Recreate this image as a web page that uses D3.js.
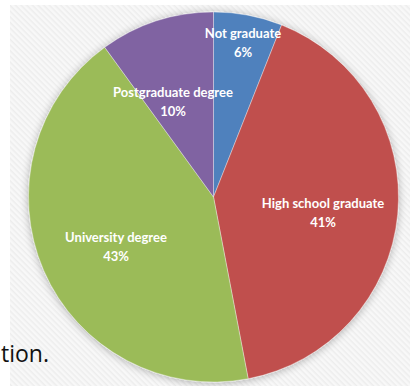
<!DOCTYPE html>
<html>
<head>
<meta charset="utf-8">
<script src="https://cdn.jsdelivr.net/npm/d3@7"></script>
<style>
  body { margin: 0; background: #fff; }
  svg { display: block; }
</style>
</head>
<body>
<div id="container"></div>
<script>
let categories = ["Not graduate", "High school graduate", "University degree", "Postgraduate degree"];
let values = [6, 41, 43, 10];
let colors = ["#4f81bd", "#c0504d", "#9bbb59", "#8064a2"];

let w = 410;
let h = 386;
let cx = 213.5;
let cy = 197;
let r = 185;

let viz = d3.select("#container")
  .append("svg")
    .attr("width", w)
    .attr("height", h)
;

let defs = viz.append("defs");

// light diagonal hatching of the slide background
let pat = defs.append("pattern")
    .attr("id", "hatch")
    .attr("width", 4)
    .attr("height", 4)
    .attr("patternUnits", "userSpaceOnUse")
    .attr("patternTransform", "rotate(45)")
;
pat.append("rect").attr("width", 4).attr("height", 4).attr("fill", "#f8f8f8");
pat.append("rect").attr("width", 4).attr("height", 1.5).attr("fill", "#ededed");

let shadow = defs.append("filter")
    .attr("id", "shadow")
    .attr("x", "-20%").attr("y", "-20%")
    .attr("width", "140%").attr("height", "140%")
;
shadow.append("feGaussianBlur").attr("in", "SourceAlpha").attr("stdDeviation", 4).attr("result", "b");
shadow.append("feOffset").attr("in", "b").attr("dx", 0).attr("dy", 1).attr("result", "o");
shadow.append("feComponentTransfer").attr("in", "o").attr("result", "s")
  .append("feFuncA").attr("type", "linear").attr("slope", 0.3);
let merge = shadow.append("feMerge");
merge.append("feMergeNode").attr("in", "s");
merge.append("feMergeNode").attr("in", "SourceGraphic");

viz.append("rect")
    .attr("x", 10)
    .attr("y", 5)
    .attr("width", w - 10)
    .attr("height", h - 5)
    .attr("fill", "url(#hatch)")
;

// bit of slide text that was cut off
viz.append("text")
    .attr("x", 1)
    .attr("y", 362)
    .attr("font-family", "Open Sans")
    .attr("font-size", 23)
    .attr("fill", "#111")
    .text("tion.")
;

let pie = d3.pie().sort(null).value(function(d){ return d.value; });
let arcMaker = d3.arc().innerRadius(0).outerRadius(r);

let data = categories.map(function(c, i){
  return { name: c, value: values[i], color: colors[i] };
});
let arcs = pie(data);

let pieGroup = viz.append("g")
    .attr("transform", "translate(" + cx + "," + cy + ")")
;

pieGroup.append("g")
    .attr("filter", "url(#shadow)")
  .selectAll("path")
  .data(arcs)
  .enter()
  .append("path")
    .attr("d", arcMaker)
    .attr("fill", function(d){ return d.data.color; })
    .attr("stroke", "rgba(255,255,255,0.45)")
    .attr("stroke-width", 0.8)
;

// label positions
let labelPos = [
  [243 - cx, 38 - cy],
  [323 - cx, 208 - cy],
  [116 - cx, 242 - cy],
  [173 - cx, 97 - cy]
];

let labels = pieGroup.selectAll(".lbl")
  .data(arcs)
  .enter()
  .append("text")
    .attr("class", "lbl")
    .attr("text-anchor", "middle")
    .attr("font-family", "Lato")
    .attr("font-weight", "bold")
    .attr("font-size", 13)
    .attr("fill", "#fff")
    .attr("transform", function(d, i){ return "translate(" + labelPos[i][0] + "," + labelPos[i][1] + ")"; })
;
labels.append("tspan")
    .attr("x", 0)
    .text(function(d){ return d.data.name; });
labels.append("tspan")
    .attr("x", 0)
    .attr("dy", 18.5)
    .text(function(d){ return d.data.value + "%"; });
</script>
</body>
</html>
